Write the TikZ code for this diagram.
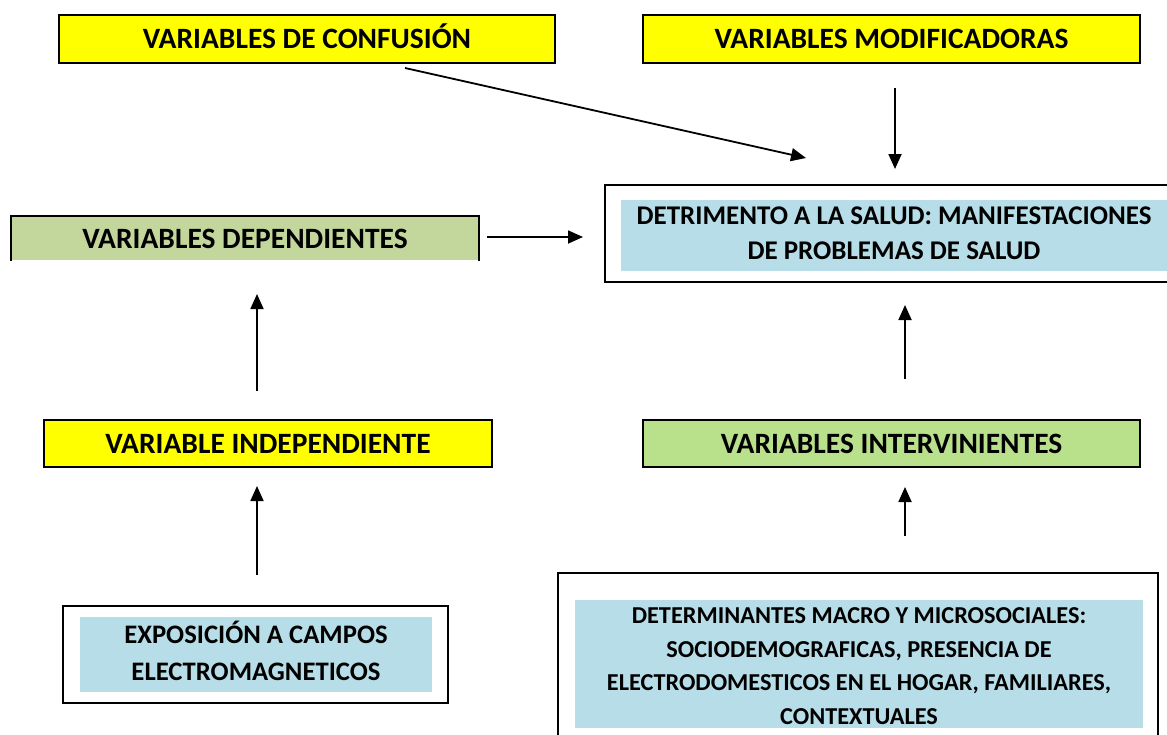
\documentclass[tikz,border=0pt]{standalone}
\usepackage{fontspec}
\setmainfont{Carlito}
\usetikzlibrary{arrows.meta}
\definecolor{yel}{HTML}{FFFF00}
\definecolor{depgreen}{HTML}{C3D69B}
\definecolor{intgreen}{HTML}{B9E08B}
\definecolor{lblue}{HTML}{B7DEE8}
\tikzset{
  box/.style={rectangle, inner sep=0pt, line width=2pt, draw=black, font=\bfseries\fontsize{29.5}{34}\selectfont, text height=19pt, text depth=0pt},
  ybox/.style={box, fill=yel},
  outerbox/.style={rectangle, inner sep=0pt, line width=1.6pt, draw=black},
  bluebox/.style={rectangle, inner sep=0pt, fill=lblue},
  bluetext/.style={inner sep=0pt, align=center, font=\bfseries\fontsize{27}{35}\selectfont},
  arr/.style={line width=1.8pt, -{Triangle[length=15pt,width=13pt]}}
}
\begin{document}
\begin{tikzpicture}[x=1pt,y=-1pt]
\useasboundingbox (0,0) rectangle (1167,734);
\clip (0,0) rectangle (1167,734);

% top boxes
\node[ybox, minimum width=496pt, minimum height=48pt] (conf) at (307,39) {VARIABLES DE CONFUSIÓN};
\node[ybox, minimum width=497pt, minimum height=48pt] (modif) at (891.5,39) {VARIABLES MODIFICADORAS};

% dependientes (no bottom border)
\node[box, draw=none, fill=depgreen, minimum width=466pt, minimum height=43pt] (dep) at (245,238.5) {VARIABLES DEPENDIENTES};
\draw[line width=2pt] (dep.south west) -- (dep.north west) -- (dep.north east) -- (dep.south east);

% detrimento
\node[outerbox, minimum width=570pt, minimum height=97pt] (detout) at (890,233.5) {};
\node[bluebox, minimum width=546pt, minimum height=71pt] (det) at (894,235.5) {};
\node[bluetext] (dett) at (894,233.5) {DETRIMENTO A LA SALUD: MANIFESTACIONES\\DE PROBLEMAS DE SALUD};

% middle boxes
\node[ybox, minimum width=448pt, minimum height=47pt] (indep) at (268,443.5) {VARIABLE INDEPENDIENTE};
\node[box, fill=intgreen, minimum width=497pt, minimum height=47pt] (interv) at (891.5,443.5) {VARIABLES INTERVINIENTES};

% exposicion
\node[outerbox, minimum width=385pt, minimum height=97pt] (expout) at (255.5,654.5) {};
\node[bluebox, minimum width=352pt, minimum height=75pt] (expo) at (256,654.5) {};
\node[bluetext, font=\bfseries\fontsize{26.7}{37}\selectfont] (expot) at (256,650.5) {EXPOSICIÓN A CAMPOS\\ELECTROMAGNETICOS};

% determinantes
\node[outerbox, minimum width=600pt, minimum height=190pt] (detmout) at (858,668) {};
\node[bluebox, minimum width=568pt, minimum height=128pt] (detm) at (859,664) {};
\node[bluetext, font=\bfseries\fontsize{24.3}{33.5}\selectfont] (detmt) at (859,666) {DETERMINANTES MACRO Y MICROSOCIALES:\\SOCIODEMOGRAFICAS, PRESENCIA DE\\ELECTRODOMESTICOS EN EL HOGAR, FAMILIARES,\\CONTEXTUALES};

% arrow end points
\coordinate (c1) at (405,68);
\coordinate (c2) at (806,158);
\coordinate (m1) at (895,88);
\coordinate (m2) at (895,169);
\coordinate (d1) at (487,237);
\coordinate (d2) at (583,237);
\coordinate (i1) at (257,391);
\coordinate (i2) at (257,294);
\coordinate (e1) at (257,575);
\coordinate (e2) at (257,486);
\coordinate (v1) at (905,379);
\coordinate (v2) at (905,305);
\coordinate (t1) at (905,536);
\coordinate (t2) at (905,487);

\draw[arr] (c1) -- (c2);
\draw[arr] (m1) -- (m2);
\draw[arr] (d1) -- (d2);
\draw[arr] (i1) -- (i2);
\draw[arr] (e1) -- (e2);
\draw[arr] (v1) -- (v2);
\draw[arr] (t1) -- (t2);
\end{tikzpicture}
\end{document}
